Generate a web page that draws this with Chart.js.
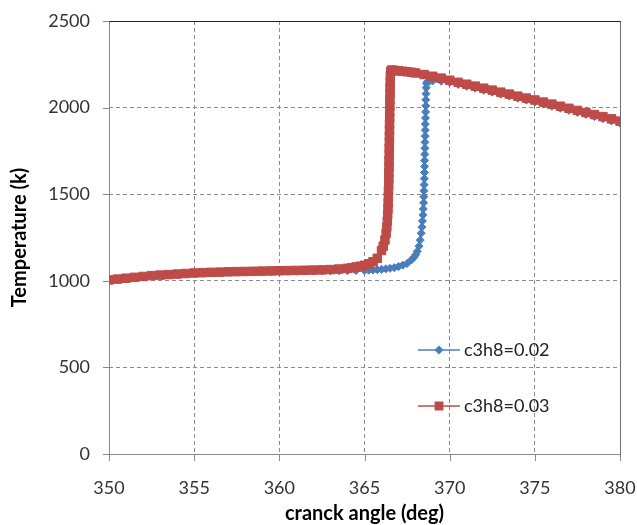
<!DOCTYPE html>
<html>
<head>
<meta charset="utf-8">
<title>Temperature vs crank angle</title>
<script src="https://cdn.jsdelivr.net/npm/chart.js@4.4.1/dist/chart.umd.min.js"></script>
<style>
  html, body { margin: 0; padding: 0; background: #fff; }
  #wrap { width: 637px; height: 525px; position: relative; }
</style>
</head>
<body>
<div id="wrap"><canvas id="chart"></canvas></div>
<script>
// ---- data ----
const seriesNames = ['c3h8=0.02', 'c3h8=0.03'];
const xTicks = [350, 355, 360, 365, 370, 375, 380];
const yTicks = [0, 500, 1000, 1500, 2000, 2500];

// c3h8 = 0.02
const angle02 = [
  350, 350.5, 351, 351.5, 352, 352.5, 353, 353.5, 354, 354.5,
  355, 355.5, 356, 356.5, 357, 357.5, 358, 358.5, 359, 359.5,
  360, 360.5, 361, 361.5, 362, 362.5, 363, 363.5, 364, 364.5,
  365, 365.25, 365.5, 365.75, 366, 366.25, 366.5, 366.75, 367, 367.25,
  367.5, 367.75, 367.9, 368, 368.1, 368.2, 368.27, 368.33, 368.37, 368.4,
  368.43, 368.45, 368.47, 368.48, 368.49, 368.5, 368.51, 368.52, 368.53, 368.53,
  368.54, 368.55, 368.55, 368.56, 368.57, 368.57, 368.58, 368.59, 368.6, 368.6,
  368.61, 368.62, 368.64, 368.68, 368.8, 369, 369.5, 370, 370.5, 371,
  371.5, 372, 372.5, 373, 373.5, 374, 374.5, 375, 375.5, 376,
  376.5, 377, 377.5, 378, 378.5, 379, 379.5, 380
];
const temp02 = [
  1000, 1006, 1012, 1017, 1022, 1027, 1031, 1034, 1037, 1040,
  1042, 1044, 1046, 1048, 1049, 1050, 1051, 1052, 1053, 1054,
  1054, 1055, 1055, 1056, 1056, 1057, 1057, 1058, 1058, 1059,
  1060, 1061, 1062, 1064, 1066, 1069, 1072, 1076, 1082, 1090,
  1100, 1120, 1135, 1150, 1170, 1200, 1235, 1275, 1310, 1345,
  1380, 1415, 1450, 1485, 1520, 1555, 1590, 1625, 1660, 1695,
  1730, 1765, 1800, 1835, 1870, 1905, 1940, 1975, 2010, 2045,
  2080, 2115, 2140, 2148, 2152, 2154, 2152, 2146, 2134, 2123,
  2112, 2100, 2089, 2077, 2066, 2054, 2043, 2032, 2020, 2008,
  1996, 1984, 1972, 1960, 1948, 1936, 1923, 1910
];

// c3h8 = 0.03
const angle03 = [
  350, 350.5, 351, 351.5, 352, 352.5, 353, 353.5, 354, 354.5,
  355, 355.5, 356, 356.5, 357, 357.5, 358, 358.5, 359, 359.5,
  360, 360.5, 361, 361.5, 362, 362.5, 363, 363.5, 364, 364.25,
  364.5, 364.75, 365, 365.25, 365.5, 365.75, 366, 366.1, 366.2, 366.27,
  366.31, 366.34, 366.36, 366.38, 366.39, 366.4, 366.41, 366.42, 366.43, 366.43,
  366.44, 366.44, 366.45, 366.45, 366.46, 366.46, 366.47, 366.47, 366.48, 366.48,
  366.49, 366.49, 366.5, 366.5, 366.51, 366.52, 366.54, 366.6, 366.8, 367,
  367.25, 367.5, 367.75, 368, 368.5, 369, 369.5, 370, 370.5, 371,
  371.5, 372, 372.5, 373, 373.5, 374, 374.5, 375, 375.5, 376,
  376.5, 377, 377.5, 378, 378.5, 379, 379.5, 380
];
const temp03 = [
  1005, 1010, 1015, 1020, 1025, 1030, 1033, 1036, 1039, 1042,
  1045, 1047, 1049, 1050, 1052, 1053, 1054, 1055, 1056, 1057,
  1058, 1059, 1060, 1061, 1062, 1063, 1065, 1068, 1072, 1075,
  1080, 1084, 1090, 1098, 1110, 1130, 1175, 1200, 1235, 1275,
  1310, 1345, 1380, 1415, 1450, 1485, 1520, 1555, 1590, 1625,
  1660, 1695, 1730, 1765, 1800, 1835, 1870, 1905, 1940, 1975,
  2010, 2045, 2080, 2115, 2150, 2185, 2210, 2217, 2215, 2212,
  2210, 2207, 2204, 2200, 2191, 2181, 2170, 2158, 2146, 2135,
  2124, 2112, 2101, 2089, 2078, 2066, 2055, 2044, 2032, 2020,
  2008, 1996, 1984, 1972, 1960, 1948, 1935, 1922
];

const BLUE = '#4a7ebb';
const RED = '#be4b48';
const AXIS = '#8a8a8a';
const FONT = 'Lato, "Open Sans", sans-serif';

const toPoints = (xs, ys) => xs.map((x, i) => ({ x: x, y: ys[i] }));

// frame, tick marks and the in-plot legend
const framePlugin = {
  id: 'frame',
  beforeDatasetsDraw(chart) {
    const { ctx, chartArea: a, scales } = chart;
    ctx.save();
    ctx.lineWidth = 1;
    ctx.strokeStyle = AXIS;
    ctx.beginPath();
    yTicks.forEach(v => {
      const y = Math.round(scales.y.getPixelForValue(v)) + 0.5;
      ctx.moveTo(a.left - 6, y); ctx.lineTo(a.left, y);
    });
    xTicks.forEach(v => {
      const x = Math.round(scales.x.getPixelForValue(v)) + 0.5;
      ctx.moveTo(x, a.bottom); ctx.lineTo(x, a.bottom + 7);
    });
    // left and bottom axes
    const L = Math.round(a.left) + 0.5, R = Math.round(a.right) + 0.5;
    const T = Math.round(a.top) + 0.5, B = Math.round(a.bottom) + 0.5;
    ctx.moveTo(L, T); ctx.lineTo(L, B); ctx.lineTo(R, B);
    ctx.stroke();
    ctx.strokeStyle = '#6e6e6e';
    ctx.beginPath(); ctx.moveTo(R, B); ctx.lineTo(R, T); ctx.stroke();
    ctx.strokeStyle = '#222';
    ctx.beginPath(); ctx.moveTo(L, T); ctx.lineTo(R, T); ctx.stroke();
    ctx.restore();
  },
  afterDraw(chart) {
    const { ctx } = chart;
    const order = [0, 1];
    const rows = [350, 406];
    ctx.save();
    order.forEach((di, k) => {
      const ds = chart.data.datasets[di];
      const y = rows[k];
      ctx.strokeStyle = ds.borderColor;
      ctx.lineWidth = 1.5;
      ctx.beginPath(); ctx.moveTo(418, y); ctx.lineTo(460, y); ctx.stroke();
      ctx.fillStyle = ds.pointBackgroundColor;
      ctx.strokeStyle = ds.pointBorderColor;
      Chart.helpers.drawPoint(ctx, {
        pointStyle: ds.pointStyle, radius: ds.legendRadius,
        borderWidth: ds.pointBorderWidth, rotation: 0
      }, 439, y);
      ctx.fillStyle = '#222';
      ctx.font = '18px ' + FONT;
      ctx.textAlign = 'left';
      ctx.textBaseline = 'middle';
      ctx.fillText(ds.label, 464, y);
    });
    ctx.restore();
  }
};

// drop the label-overflow padding so the plot box sits where the layout says
const noOverflow = s => { s.paddingLeft = s.paddingRight = s.paddingTop = s.paddingBottom = 0; };

new Chart(document.getElementById('chart'), {
  type: 'scatter',
  data: {
    datasets: [
      {
        label: seriesNames[0],
        data: toPoints(angle02, temp02),
        showLine: true,
        borderColor: BLUE,
        borderWidth: 2.5,
        pointStyle: 'rectRot',
        pointRadius: 4,
        legendRadius: 3.5,
        pointBorderWidth: 1,
        pointBackgroundColor: BLUE,
        pointBorderColor: BLUE,
        order: 2
      },
      {
        label: seriesNames[1],
        data: toPoints(angle03, temp03),
        showLine: true,
        borderColor: RED,
        borderWidth: 3,
        pointStyle: 'rect',
        pointRadius: 6,
        legendRadius: 5.2,
        pointBorderWidth: 1,
        pointBackgroundColor: RED,
        pointBorderColor: RED,
        order: 1
      }
    ]
  },
  options: {
    responsive: true,
    maintainAspectRatio: false,
    animation: false,
    layout: { padding: { left: 0, right: 17, top: 21, bottom: 0 } },
    plugins: { legend: { display: false }, tooltip: { enabled: false } },
    scales: {
      x: {
        type: 'linear',
        min: 350, max: 380,
        afterFit: s => { s.height = 71; noOverflow(s); },
        afterBuildTicks: s => { s.ticks = xTicks.map(v => ({ value: v })); },
        grid: { color: AXIS, drawTicks: false },
        border: { display: false, dash: [4, 3] },
        ticks: {
          color: '#333', padding: 23, maxRotation: 0,
          callback: v => String(v),
          font: { family: FONT, size: 18 }
        },
        title: {
          display: true, text: 'cranck angle (deg)', color: '#000',
          padding: { top: 0, bottom: 1 },
          font: { family: FONT, size: 20, weight: 'bold', lineHeight: 1 }
        }
      },
      y: {
        min: 0, max: 2500,
        afterFit: s => { s.width = 109; noOverflow(s); },
        afterBuildTicks: s => { s.ticks = yTicks.map(v => ({ value: v })); },
        grid: { color: AXIS, drawTicks: false },
        border: { display: false, dash: [4, 3] },
        ticks: {
          color: '#333', padding: 19,
          callback: v => String(v),
          font: { family: FONT, size: 18 }
        },
        title: {
          display: true, text: 'Temperature (k)', color: '#000',
          padding: { top: 10, bottom: 0 },
          font: { family: FONT, size: 20, weight: 'bold', lineHeight: 1 }
        }
      }
    }
  },
  plugins: [framePlugin]
});
</script>
</body>
</html>
